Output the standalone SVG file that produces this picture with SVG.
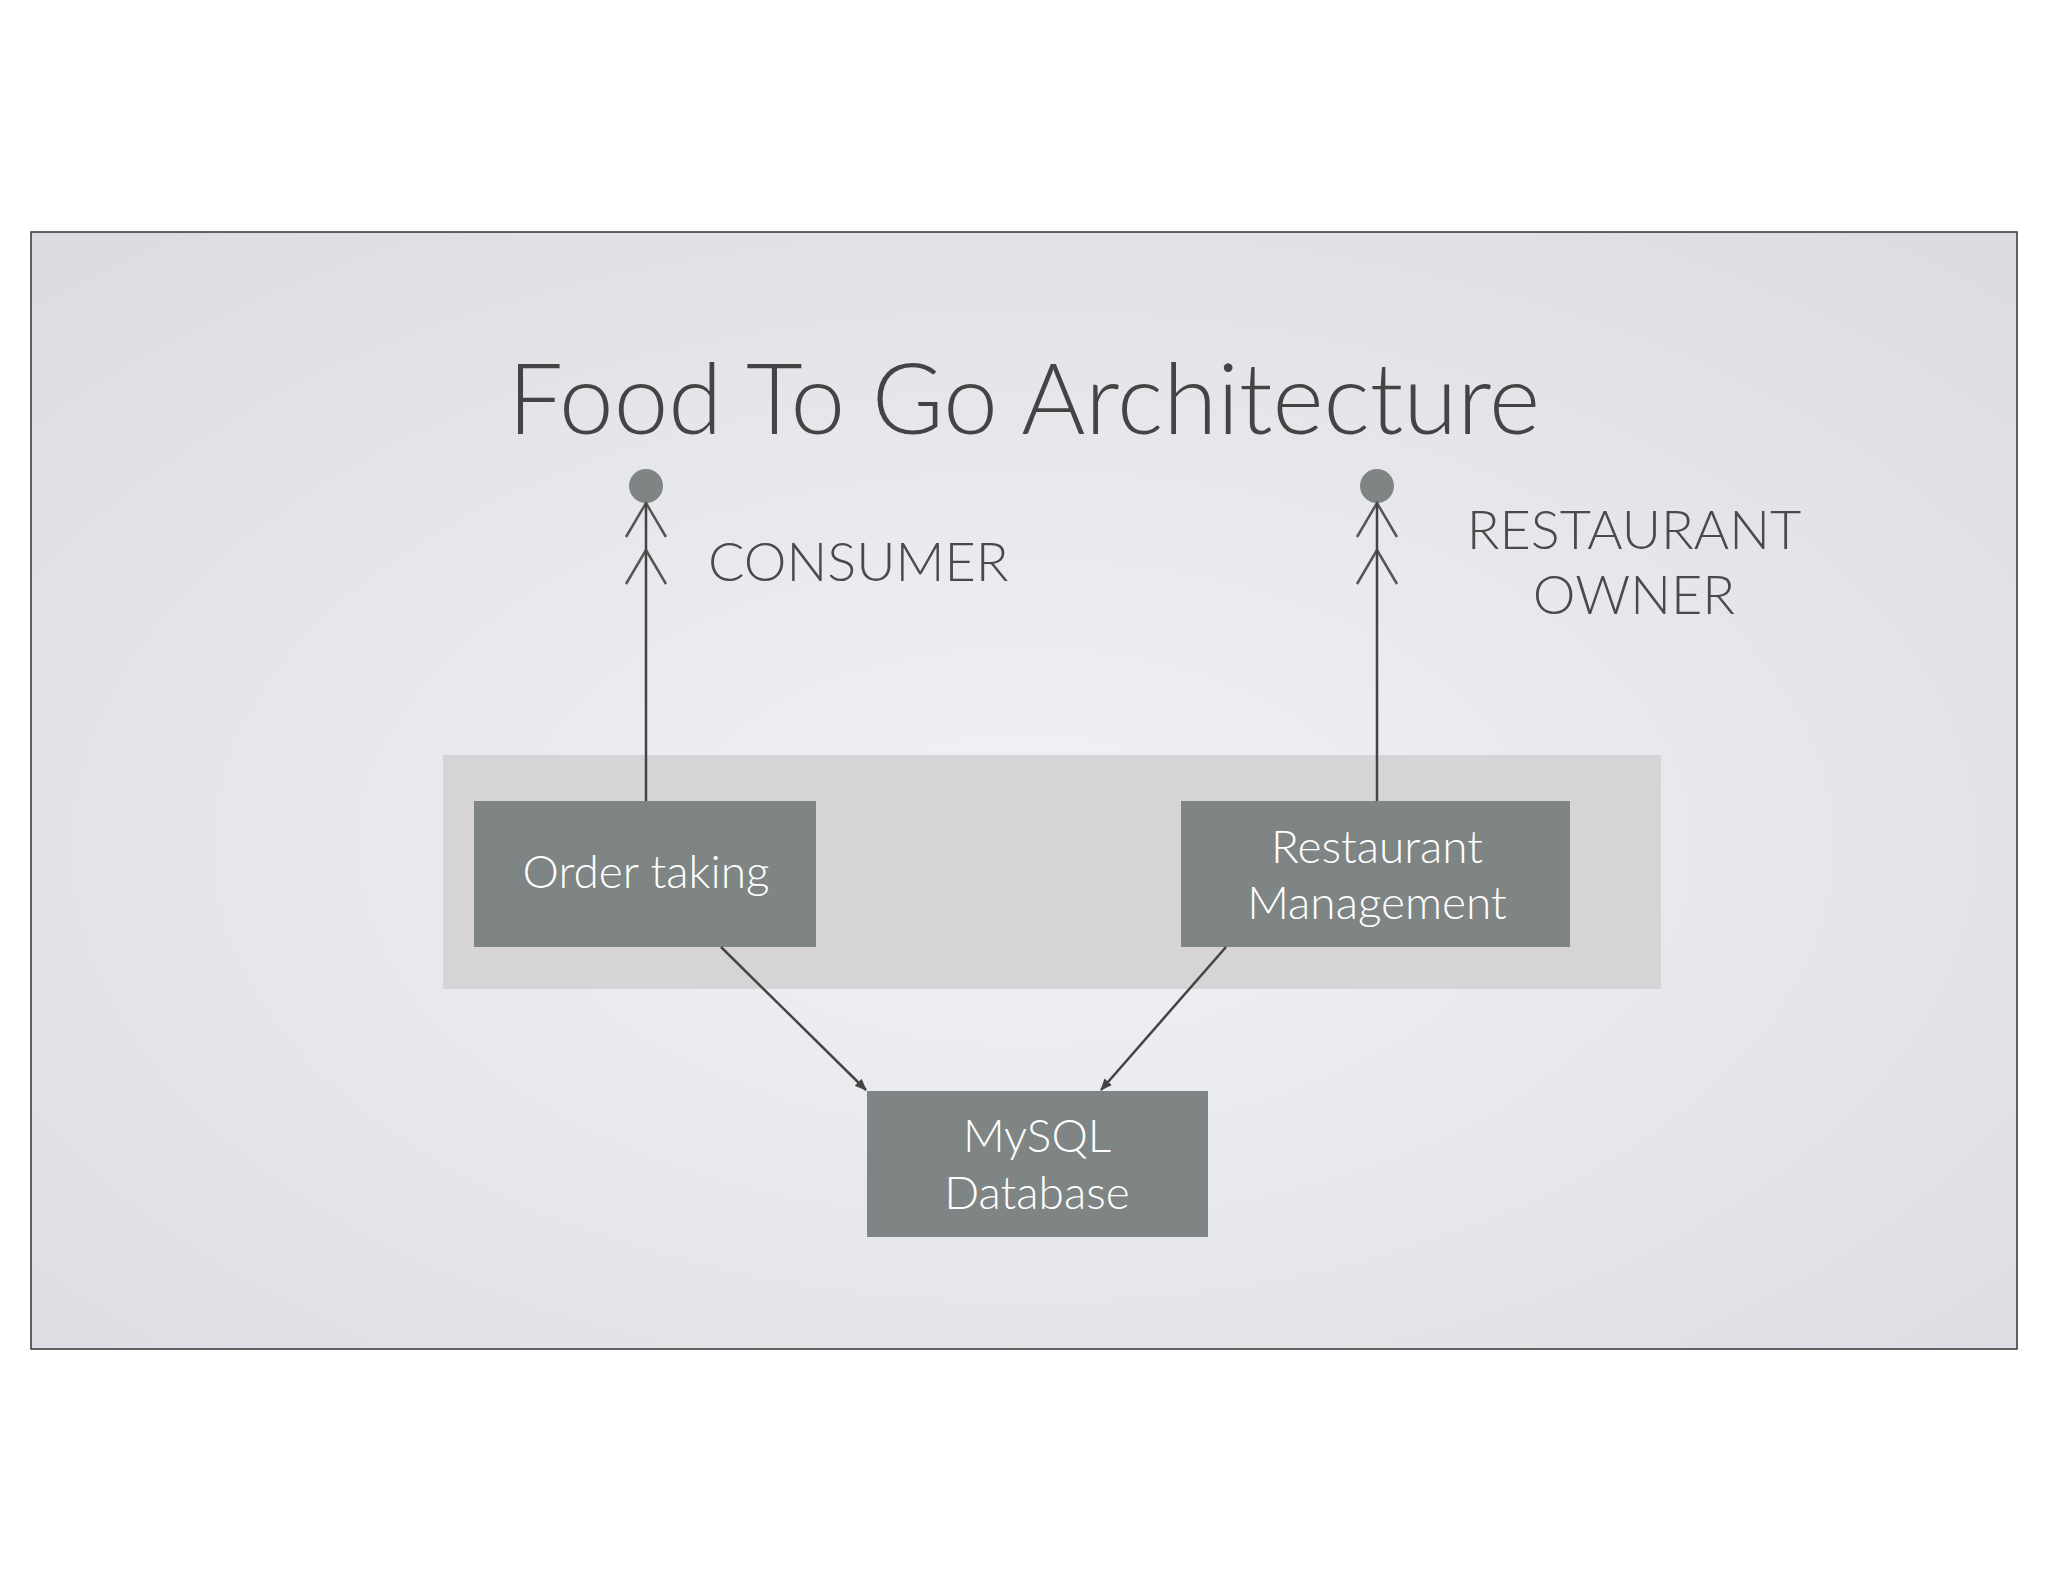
<svg xmlns="http://www.w3.org/2000/svg" width="2048" height="1582" viewBox="0 0 2048 1582">
<defs>
<radialGradient id="bg" cx="0.5" cy="0.55" r="0.7">
<stop offset="0" stop-color="#f2f2f6"/><stop offset="1" stop-color="#dcdde2"/>
</radialGradient>
<marker id="ah" markerWidth="12" markerHeight="12" refX="11" refY="6" orient="auto" markerUnits="userSpaceOnUse">
<path d="M0,1 L12,6 L0,11 Z" fill="#444"/>
</marker>
<style>
text{font-family:Lato,"Liberation Sans",sans-serif;font-weight:300}
.box{fill:#7f8584}
.bt{fill:#fff;font-size:46px;text-anchor:middle}
.lab{fill:#4a4a4a;font-size:54px}
.act{stroke:#555;stroke-width:2.5;fill:none}
.con{stroke:#444;stroke-width:2.5;fill:none}
</style>
</defs>
<rect width="2048" height="1582" fill="#fff"/>
<rect x="31" y="232" width="1986" height="1117" fill="url(#bg)" stroke="#333" stroke-width="1.5"/>
<text x="1024" y="434" text-anchor="middle" font-size="98" fill="#444">Food To Go Architecture</text>
<rect id="container" x="443" y="755" width="1218" height="234" fill="#d5d5d7"/>
<g id="consumer">
<circle cx="646" cy="486" r="17" fill="#7f8584"/>
<path class="act" d="M626,537 L646,503 L666,537 M626,584 L646,550 L666,584"/>
<text class="lab" x="708" y="581">CONSUMER</text>
</g>
<g id="owner">
<circle cx="1377" cy="486" r="17" fill="#7f8584"/>
<path class="act" d="M1357,537 L1377,503 L1397,537 M1357,584 L1377,550 L1397,584"/>
<text class="lab" x="1634" y="549" text-anchor="middle">RESTAURANT</text>
<text class="lab" x="1634" y="614" text-anchor="middle">OWNER</text>
</g>
<g id="order">
<rect class="box" x="474" y="801" width="342" height="146"/>
<text class="bt" x="646" y="888">Order taking</text>
</g>
<g id="restaurant">
<rect class="box" x="1181" y="801" width="389" height="146"/>
<text class="bt" x="1377" y="863">Restaurant</text>
<text class="bt" x="1377" y="919">Management</text>
</g>
<g id="mysql">
<rect class="box" x="867" y="1091" width="341" height="146"/>
<text class="bt" x="1037" y="1152">MySQL</text>
<text class="bt" x="1037" y="1209">Database</text>
</g>
<g id="connectors">
<line class="con" x1="646" y1="801" x2="646" y2="503"/>
<line class="con" x1="1377" y1="801" x2="1377" y2="503"/>
<line class="con" x1="721" y1="947" x2="866" y2="1090" marker-end="url(#ah)"/>
<line class="con" x1="1226" y1="947" x2="1101" y2="1090" marker-end="url(#ah)"/>
</g>
</svg>
